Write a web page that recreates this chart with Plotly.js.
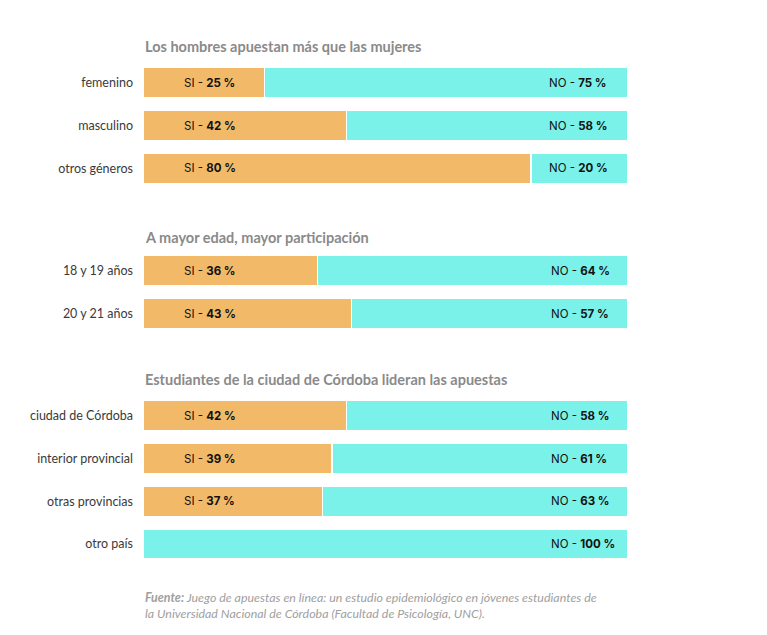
<!DOCTYPE html>
<html><head><meta charset="utf-8">
<script src="https://cdn.plot.ly/plotly-3.0.1.min.js"></script>
<style>html,body{margin:0;padding:0;background:#fff}</style>
</head><body>
<div id="chart" style="width:767px;height:635px"></div>
<script>
const groupTitles = ["Los hombres apuestan más que las mujeres", "A mayor edad, mayor participación", "Estudiantes de la ciudad de Córdoba lideran las apuestas"];
const g1Cats = ["femenino", "masculino", "otros géneros"];
const g1Si = [25, 42, 80];
const g1No = [75, 58, 20];
const g2Cats = ["18 y 19 años", "20 y 21 años"];
const g2Si = [36, 43];
const g2No = [64, 57];
const g3Cats = ["ciudad de Córdoba", "interior provincial", "otras provincias", "otro país"];
const g3Si = [42, 39, 37, 0];
const g3No = [58, 61, 63, 100];
const sourceText = "<b>Fuente:</b> Juego de apuestas en línea: un estudio epidemiológico en jóvenes estudiantes de<br>la Universidad Nacional de Córdoba (Facultad de Psicología, UNC).";

const H = 635;
const groups = [
  {cats: g1Cats, si: g1Si, no: g1No, top: 61.5, titleY: 47},
  {cats: g2Cats, si: g2Si, no: g2No, top: 249.5, titleY: 237},
  {cats: g3Cats, si: g3Si, no: g3No, top: 394.5, titleY: 379}
];
const pitch = 42.7;
const orange = "#F2BA68", cyan = "#7AF2EA";
const traces = [], annotations = [];
const layout = {
  width: 767, height: 635,
  margin: {l: 143, r: 139, t: 0, b: 0},
  paper_bgcolor: "#fff", plot_bgcolor: "#fff",
  barmode: "stack", bargap: 0.29, showlegend: false,
  xaxis: {range: [0, 100], visible: false, fixedrange: true},
  font: {family: "Lato, sans-serif"},
  annotations: annotations
};
groups.forEach((g, i) => {
  const yid = i === 0 ? "y" : "y" + (i + 1);
  const yk = i === 0 ? "yaxis" : "yaxis" + (i + 1);
  const bottom = g.top + g.cats.length * pitch;
  layout[yk] = {
    domain: [1 - bottom / H, 1 - g.top / H],
    type: "category", categoryorder: "array", categoryarray: g.cats,
    autorange: "reversed", showgrid: false, zeroline: false, showline: false,
    ticks: "", ticklabelstandoff: 9,
    tickfont: {family: "Lato, sans-serif", size: 12.5, color: "#3a3a3a"},
    anchor: "x", fixedrange: true
  };
  traces.push({type: "bar", orientation: "h", x: g.si, y: g.cats, yaxis: yid, xaxis: "x",
    marker: {color: orange, line: {color: "#fff", width: 1.5}}, hoverinfo: "skip"});
  traces.push({type: "bar", orientation: "h", x: g.no, y: g.cats, yaxis: yid, xaxis: "x",
    marker: {color: cyan, line: {color: "#fff", width: 1.5}}, hoverinfo: "skip"});
  g.cats.forEach((c, j) => {
    if (g.si[j] > 0) annotations.push({xref: "x", yref: yid, x: 8.0, y: c, xanchor: "left",
      showarrow: false, text: "SI - <b>" + g.si[j] + " %</b>",
      font: {family: "Inter, sans-serif", size: 11.5, color: "#111"}});
    annotations.push({xref: "x", yref: yid, x: i === 0 ? 83.2 : 83.8, y: c, xanchor: "left",
      showarrow: false, text: "NO - <b>" + g.no[j] + " %</b>",
      font: {family: "Inter, sans-serif", size: 11.5, color: "#111"}});
  });
  annotations.push({xref: "paper", yref: "paper", x: 0, y: 1 - g.titleY / H, xanchor: "left", yanchor: "middle",
    showarrow: false, text: "<b>" + groupTitles[i] + "</b>",
    font: {family: "Lato, sans-serif", size: 14.5, color: "#8a8a8a"}});
});
annotations.push({xref: "paper", yref: "paper", x: 0, y: 1 - 605 / H, xanchor: "left", yanchor: "middle", align: "left",
  showarrow: false, text: "<i>" + sourceText + "</i>",
  font: {family: "Lato, sans-serif", size: 12.4, color: "#a0a0a0"}});
Plotly.newPlot("chart", traces, layout, {displayModeBar: false, staticPlot: true});
</script>
</body></html>
